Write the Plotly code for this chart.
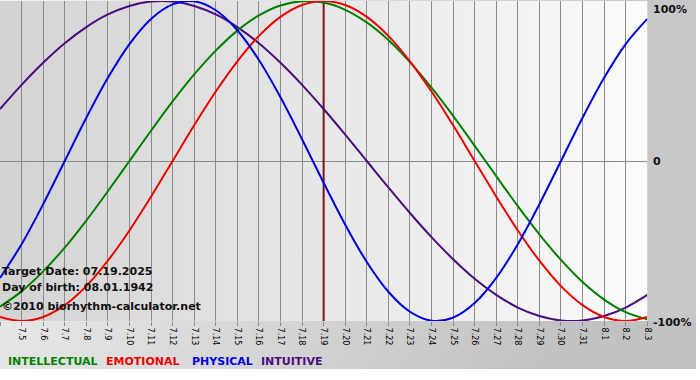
import base64
import plotly.graph_objects as go

# ---------------- data ----------------
dates = ["7.4", "7.5", "7.6", "7.7", "7.8", "7.9", "7.10", "7.11", "7.12", "7.13",
         "7.14", "7.15", "7.16", "7.17", "7.18", "7.19", "7.20", "7.21", "7.22", "7.23",
         "7.24", "7.25", "7.26", "7.27", "7.28", "7.29", "7.30", "7.31", "8.1", "8.2", "8.3"]

physical = [-0.731, -0.520, -0.270, 0.000, 0.270, 0.520, 0.731, 0.888, 0.979, 0.998,
            0.942, 0.817, 0.631, 0.398, 0.136, -0.136, -0.398, -0.631, -0.817, -0.942,
            -0.998, -0.979, -0.888, -0.731, -0.520, -0.270, 0.000, 0.270, 0.520, 0.731, 0.888]

emotional = [-0.975, -1.000, -0.975, -0.901, -0.782, -0.623, -0.434, -0.223, 0.000, 0.223,
             0.434, 0.623, 0.782, 0.901, 0.975, 1.000, 0.975, 0.901, 0.782, 0.623,
             0.434, 0.223, 0.000, -0.223, -0.434, -0.623, -0.782, -0.901, -0.975, -1.000, -0.975]

intellectual = [-0.910, -0.815, -0.690, -0.541, -0.372, -0.189, 0.000, 0.189, 0.372, 0.541,
                0.690, 0.815, 0.910, 0.972, 0.999, 0.990, 0.945, 0.866, 0.756, 0.618,
                0.458, 0.282, 0.095, -0.095, -0.282, -0.458, -0.618, -0.756, -0.866, -0.945, -0.990]

intuitive = [0.325, 0.476, 0.614, 0.736, 0.837, 0.916, 0.969, 0.997, 0.997, 0.969,
             0.916, 0.837, 0.736, 0.614, 0.476, 0.325, 0.165, 0.000, -0.165, -0.325,
             -0.476, -0.614, -0.736, -0.837, -0.916, -0.969, -0.997, -0.997, -0.969, -0.916, -0.837]

target_day = "7.19"
y_ticks = [1, 0, -1]
y_labels = ["100%", "0", "-100%"]
legend_names = ["INTELLECTUAL", "EMOTIONAL", "PHYSICAL", "INTUITIVE"]
info_lines = ["Target Date: 07.19.2025", "Day of birth: 08.01.1942", "\u00a92010 biorhythm-calculator.net"]

# ---------------- style ----------------
W, H = 700, 380
PL, PR, PT, PB = 0, 651, 1, 321  # plot area in pixels
C_GREEN, C_RED, C_BLUE, C_PURPLE = "#008000", "#ee0000", "#0000dd", "#4b0c7f"
FONT = "DejaVu Sans, Verdana, sans-serif"

xs = list(range(len(dates)))

svg = f"""<svg xmlns='http://www.w3.org/2000/svg' width='{W}' height='{H}' viewBox='0 0 {W} {H}' preserveAspectRatio='none'>
<defs>
<linearGradient id='p' x1='0' x2='1' y1='0' y2='0'><stop offset='0' stop-color='#d3d3d3'/><stop offset='1' stop-color='#fbfbfb'/></linearGradient>
<linearGradient id='b' x1='0' x2='1' y1='0' y2='0.3'><stop offset='0' stop-color='#f2f2f2'/><stop offset='1' stop-color='#c2c2c2'/></linearGradient>
</defs>
<rect width='{W}' height='{H}' fill='#ffffff'/>
<rect x='0' y='0' width='{W}' height='369' fill='url(#b)'/>
<rect x='{PR}' y='0' width='{W-PR}' height='{PB}' fill='#c8c8c8'/>
<rect x='{PL}' y='{PT}' width='{PR-PL}' height='{PB-PT}' fill='url(#p)'/>
</svg>"""
svg_uri = "data:image/svg+xml;base64," + base64.b64encode(svg.encode()).decode()

fig = go.Figure()
series = [("INTUITIVE", intuitive, C_PURPLE), ("INTELLECTUAL", intellectual, C_GREEN),
          ("EMOTIONAL", emotional, C_RED), ("PHYSICAL", physical, C_BLUE)]
for name, vals, col in series:
    fig.add_trace(go.Scatter(x=xs, y=vals, mode="lines", name=name,
                             line=dict(color=col, width=2, shape="spline", smoothing=1.0),
                             hoverinfo="skip", showlegend=False))

ti = dates.index(target_day)
fig.add_shape(type="line", x0=ti, x1=ti, y0=-1, y1=1, xref="x", yref="y",
              line=dict(color="#7a1515", width=2), layer="between")

annotations = []
# right axis labels
ylab_pos = {1: (379 / H, "top"), 0: ((H - 161) / H, "middle"), -1: ((H - 322) / H, "middle")}
for v, lab in zip(y_ticks, y_labels):
    yy, anc = ylab_pos[v]
    annotations.append(dict(x=655 / W, y=yy, xref="paper", yref="paper", xanchor="left", yanchor=anc,
                            text=f"<b>{lab}</b>", showarrow=False,
                            font=dict(family=FONT, size=11, color="#111111")))
# info text
for line, ypx in zip(info_lines, [271, 287, 306]):
    annotations.append(dict(x=0, y=(H - ypx) / H, xref="paper", yref="paper", xanchor="left",
                            yanchor="middle", text=f"<b>{line}</b>", showarrow=False,
                            font=dict(family=FONT, size=11, color="#111111")))
# legend words
for name, col, xpx in zip(legend_names, [C_GREEN, C_RED, C_BLUE, C_PURPLE], [6, 105, 191, 260]):
    annotations.append(dict(x=xpx / W, y=(H - 361) / H, xref="paper", yref="paper", xanchor="left",
                            yanchor="middle", text=f"<b>{name}</b>", showarrow=False,
                            font=dict(family=FONT, size=11, color=col)))

fig.update_layout(
    width=W, height=H,
    margin=dict(l=0, r=0, t=0, b=0),
    paper_bgcolor="#ffffff",
    plot_bgcolor="rgba(0,0,0,0)",
    images=[dict(source=svg_uri, xref="paper", yref="paper", x=0, y=1, sizex=1, sizey=1,
                 xanchor="left", yanchor="top", sizing="stretch", layer="below")],
    xaxis=dict(domain=[PL / W, PR / W], range=[0, len(dates) - 1], tickvals=xs, ticktext=dates,
               tickangle=90, showgrid=True, gridcolor="#8a8a8a", gridwidth=1, zeroline=False,
               ticks="outside", ticklen=4, tickcolor="#8a8a8a",
               tickfont=dict(family=FONT, size=8, color="#000000"), showline=False, fixedrange=True),
    yaxis=dict(domain=[(H - PB) / H, (H - PT) / H], range=[-1, 1], tickvals=y_ticks,
               showticklabels=False, showgrid=True, gridcolor="#8a8a8a", gridwidth=1,
               zeroline=False, showline=False, ticks="", fixedrange=True),
    annotations=annotations,
    showlegend=False,
)

fig.write_html("out.html", config={"displayModeBar": False},
               post_script="document.body.style.margin='0';document.body.style.overflow='hidden';")
